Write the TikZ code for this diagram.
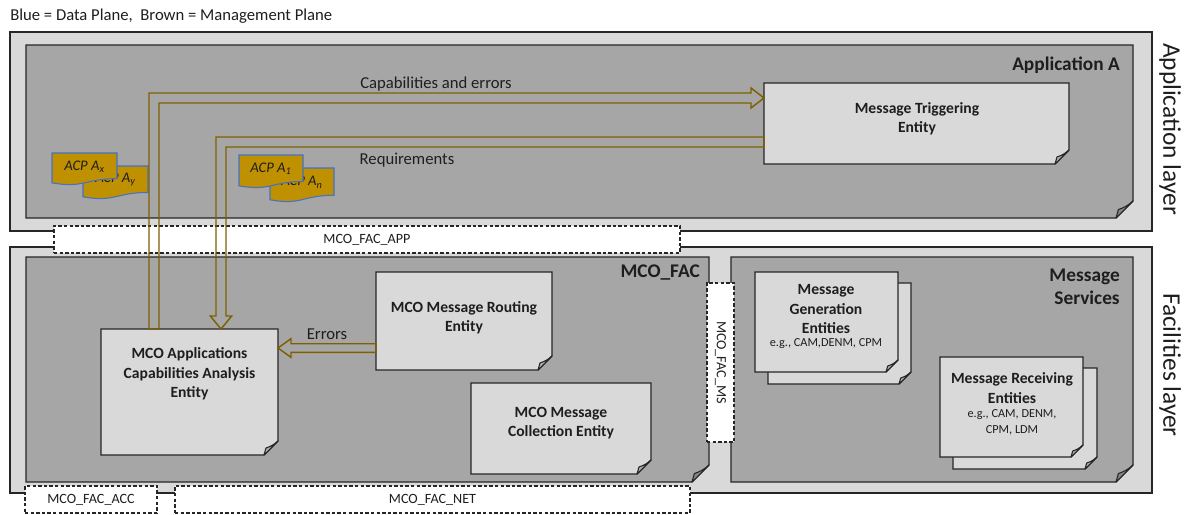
\documentclass[tikz,border=0pt]{standalone}
\usepackage{fontspec}
\setmainfont{Carlito}
\usetikzlibrary{calc,fit}
\definecolor{outerg}{HTML}{D9D9D9}
\definecolor{darkg}{HTML}{A6A6A6}
\definecolor{boxg}{HTML}{D9D9D9}
\definecolor{flapl}{HTML}{AEAEAE}
\definecolor{flapd}{HTML}{858585}
\definecolor{brownm}{HTML}{7F6000}
\definecolor{goldf}{HTML}{BF9000}
\definecolor{docblue}{HTML}{4472C4}
\definecolor{edgec}{HTML}{262626}
\definecolor{txtc}{HTML}{1E1E1E}
\tikzset{
  geom/.style={inner sep=0pt, outer sep=0pt, draw=none},
  outerbox/.style={geom, fill=outerg, draw=edgec, line width=0.8pt},
  dbox/.style={geom, fill=white, draw=edgec, line width=0.8pt, dash pattern=on 2.6pt off 1.6pt},
  lbl/.style={font=\fontsize{12.5}{15}\selectfont, text=txtc, inner sep=0pt},
  iflbl/.style={font=\fontsize{10.6}{13}\selectfont, text=txtc, inner sep=0pt},
  bigbold/.style={font=\bfseries\fontsize{14.5}{17.3}\selectfont, text=txtc, inner sep=0pt},
  entt/.style={font=\bfseries\fontsize{11.7}{14.6}\selectfont, text=txtc, inner sep=0pt, align=center},
  smallt/.style={font=\fontsize{9.2}{12}\selectfont, text=txtc, inner sep=0pt, align=center},
  acpt/.style={font=\itshape\fontsize{11}{13}\selectfont, text=txtc, inner sep=0pt},
  layert/.style={font=\fontsize{19}{22}\selectfont, text=txtc, inner sep=0pt, rotate=-90},
  arr/.style={draw=brownm, line width=1.1pt, line join=miter},
  docshape/.style={fill=goldf, draw=docblue, line width=0.8pt},
}
% folded-corner box drawn from a named geometry node
\newcommand\foldshape[4]{%
  \filldraw[fill=#2, draw=edgec, line width=1pt]
    (#1.north west) -- (#1.north east) -- ($(#1.south east)+(0,-#4)$)
    -- ($(#1.south east)+(-#4,0)$) -- (#1.south west) -- cycle;
  \filldraw[fill=#3, draw=edgec, line width=0.8pt, line join=round]
    ($(#1.south east)+(-#4,0)$) -- ($(#1.south east)+(-0.86*#4,-0.5*#4)$)
    to[bend right=12] ($(#1.south east)+(0,-#4)$) -- cycle;
}
% ACP document shape: #1 name, #2 x, #3 y, #4 w, #5 h, #6 label
\newcommand\acpdoc[6]{%
  \filldraw[docshape] (#2,#3) -- (#2+#4,#3) -- (#2+#4,#3+0.802*#5)
    .. controls (#2+0.5*#4,#3+0.802*#5) and (#2+0.5*#4,#3+1.107*#5) .. (#2,#3+0.934*#5) -- cycle;
  \node[acpt] (#1) at (#2+0.5*#4,#3+0.42*#5) {#6};
}
\begin{document}
\begin{tikzpicture}[x=0.75pt,y=-0.75pt]
\useasboundingbox (0,0) rectangle (1188,514);

\node[lbl, anchor=west] (legend) at (10,16) {Blue = Data Plane,~ Brown = Management Plane};

% ---------- Application layer ----------
\node[outerbox, fit={(10,32)(1152,231)}] (applayer) {};
\node[geom, fit={(26,45)(1133,218)}] (appA) {};
\foldshape{appA}{darkg}{flapd}{17}
\node[bigbold, anchor=east] (appAT) at (1120,65) {Application A};

% ---------- Facilities layer ----------
\node[outerbox, fit={(10,247)(1152,493)}] (faclayer) {};
\node[geom, fit={(26,257)(709,482)}] (mcofac) {};
\foldshape{mcofac}{darkg}{flapd}{17}
\node[geom, fit={(731,257)(1133,482)}] (msvc) {};
\foldshape{msvc}{darkg}{flapd}{17}
\node[bigbold, anchor=east] (mcofacT) at (700,273) {MCO\_FAC};
\node[bigbold, anchor=east, align=right] (msvcT) at (1120,287) {Message\\Services};

% interface boxes
\node[dbox, fit={(54,226)(680,253)}] (ifapp) {};
\node[iflbl] (ifappT) at (ifapp) {MCO\_FAC\_APP};
\node[dbox, fit={(707,283)(734,442)}] (ifms) {};
\node[iflbl, rotate=-90] (ifmsT) at (ifms) {MCO\_FAC\_MS};
\node[dbox, fit={(25,486)(157,513)}] (ifacc) {};
\node[iflbl] (ifaccT) at (ifacc) {MCO\_FAC\_ACC};
\node[dbox, fit={(175,486)(690,513)}] (ifnet) {};
\node[iflbl] (ifnetT) at (ifnet) {MCO\_FAC\_NET};

% ---------- entities ----------
\node[geom, fit={(764,83)(1069,164)}] (mte) {};
\foldshape{mte}{boxg}{flapl}{14}
\node[entt] (mteT) at (917,119) {Message Triggering\\Entity};

\node[geom, fit={(101,329)(278,455)}] (aca) {};
\foldshape{aca}{boxg}{flapl}{14}
\node[entt] (acaT) at (189.5,374) {MCO Applications\\Capabilities Analysis\\Entity};

\node[geom, fit={(376,272)(552,370)}] (mro) {};
\foldshape{mro}{boxg}{flapl}{14}
\node[entt] (mroT) at (464,318) {MCO Message Routing\\Entity};

\node[geom, fit={(471,383)(651,474)}] (mco) {};
\foldshape{mco}{boxg}{flapl}{14}
\node[entt] (mcoT) at (561,423) {MCO Message\\Collection Entity};

\node[geom, fit={(768,283)(911,384)}] (mgenB) {};
\foldshape{mgenB}{boxg}{flapl}{12}
\node[geom, fit={(755,272)(898,372)}] (mgen) {};
\foldshape{mgen}{boxg}{flapl}{12}
\node[entt] (mgenT) at (826,309) {Message\\Generation\\Entities};
\node[smallt] (mgenS) at (826,344) {e.g., CAM,DENM, CPM};

\node[geom, fit={(953,368)(1097,469)}] (mrecB) {};
\foldshape{mrecB}{boxg}{flapl}{12}
\node[geom, fit={(940,357)(1083,457)}] (mrec) {};
\foldshape{mrec}{boxg}{flapl}{12}
\node[entt] (mrecT) at (1012,388) {Message Receiving\\Entities};
\node[smallt] (mrecS) at (1012,422) {e.g., CAM, DENM,\\CPM, LDM};

% ---------- ACP documents ----------
\acpdoc{acpy}{83}{166}{65}{33}{ACP A\textsubscript{y}}
\acpdoc{acpx}{52}{153}{65}{32}{ACP A\textsubscript{x}}
\acpdoc{acpn}{270}{168}{64}{34}{ACP A\textsubscript{n}}
\acpdoc{acp1}{239}{155}{64}{33}{ACP A\textsubscript{1}}

% ---------- arrows ----------
\coordinate (c1s) at ($(aca.north west)+(53,0)$);
\coordinate (c1e) at ($(mte.north west)+(0,15)$);
\draw[arr] let \p1=(c1s), \p2=(c1e) in
  (\x1-3.75pt,\y1) -- (\x1-3.75pt,\y2+3.75pt) -- (\x2-9.75pt,\y2+3.75pt)
  -- (\x2-9.75pt,\y2+7.5pt) -- (\x2,\y2) -- (\x2-9.75pt,\y2-7.5pt)
  -- (\x2-9.75pt,\y2-3.75pt) -- (\x1+3.75pt,\y2-3.75pt) -- (\x1+3.75pt,\y1) -- cycle;
\node[lbl] (capT) at (436,84) {Capabilities and errors};

\coordinate (c2s) at ($(mte.north west)+(0,59)$);
\coordinate (c2e) at ($(aca.north west)+(120,0)$);
\draw[arr] let \p1=(c2s), \p2=(c2e) in
  (\x1,\y1+3.75pt) -- (\x2-3.75pt,\y1+3.75pt) -- (\x2-3.75pt,\y2+9.75pt)
  -- (\x2-8pt,\y2+9.75pt) -- (\x2,\y2) -- (\x2+8pt,\y2+9.75pt)
  -- (\x2+3.75pt,\y2+9.75pt) -- (\x2+3.75pt,\y1-3.75pt) -- (\x1,\y1-3.75pt) -- cycle;
\node[lbl] (reqT) at (407,160) {Requirements};

\coordinate (c3s) at ($(mro.north west)+(0,76)$);
\coordinate (c3e) at ($(aca.north east)+(0,19)$);
\draw[arr] let \p1=(c3s), \p2=(c3e) in
  (\x1,\y1+3.2pt) -- (\x2+9.75pt,\y1+3.2pt) -- (\x2+9.75pt,\y1+7pt)
  -- (\x2,\y2) -- (\x2+9.75pt,\y1-7pt) -- (\x2+9.75pt,\y1-3.2pt) -- (\x1,\y1-3.2pt) -- cycle;
\node[lbl] (errT) at (327,334) {Errors};

% ---------- layer labels ----------
\node[layert] (applT) at (1170,129) {Application layer};
\node[layert] (facT) at (1170,365) {Facilities layer};
\end{tikzpicture}
\end{document}
